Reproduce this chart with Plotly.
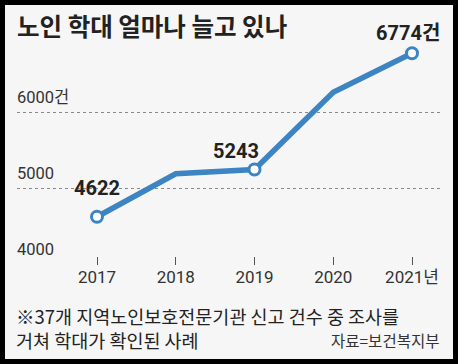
import plotly.graph_objects as go

years = [2017, 2018, 2019, 2020, 2021]
cases = [4622, 5188, 5243, 6259, 6774]
x_tick_labels = ["2017", "2018", "2019", "2020", "2021년"]
y_ticks = [4000, 5000, 6000]
y_tick_labels = ["4000", "5000", "6000건"]
labeled_idx = [0, 2, 4]
point_labels = ["4622", "5243", "6774건"]

title = "노인 학대 얼마나 늘고 있나"
note_lines = ["※37개 지역노인보호전문기관 신고 건수 중 조사를", "거쳐 학대가 확인된 사례"]
source = "자료=보건복지부"

W, H = 458, 364
L, R, T, B = 17, 17, 40, 99
PW, PH = W - L - R, H - T - B

def px2x(px):
    return (px - L) / PW

def py2y(py):
    return (H - B - py) / PH

NUM = "Roboto, Noto Sans CJK KR, sans-serif"
KR = "Noto Sans CJK KR, sans-serif"
BLUE = "#3d84c3"
BG = "#f6f6f6"

fig = go.Figure()
fig.add_trace(go.Scatter(
    x=years, y=cases, mode="lines",
    line=dict(color=BLUE, width=5.5),
    hoverinfo="skip", showlegend=False,
))
fig.add_trace(go.Scatter(
    x=[years[i] for i in labeled_idx], y=[cases[i] for i in labeled_idx],
    mode="markers",
    marker=dict(size=11, color="white", line=dict(color=BLUE, width=3)),
    hoverinfo="skip", showlegend=False,
))

ann = []
shifts = [(0, 29), (-19, 19), (-4, 20)]
for k, i in enumerate(labeled_idx):
    ann.append(dict(
        x=years[i], y=cases[i], xref="x", yref="y", text=point_labels[k],
        showarrow=False, xanchor="center", yanchor="middle",
        xshift=shifts[k][0], yshift=shifts[k][1],
        font=dict(family=NUM, size=20, color="#222", weight="bold"),
    ))
for v, t in zip(y_ticks, y_tick_labels):
    ann.append(dict(
        x=0, y=v, xref="paper", yref="y", text=t, showarrow=False,
        xanchor="left", yanchor="middle", yshift=15, xshift=-2,
        font=dict(family=NUM, size=16.5, color="#333"),
    ))
ann.append(dict(
    x=px2x(15), y=py2y(25), xref="paper", yref="paper", text=title,
    showarrow=False, xanchor="left", yanchor="middle",
    font=dict(family=KR, size=24.5, color="#222", weight="bold"),
))
ann.append(dict(
    x=px2x(14), y=py2y(328), xref="paper", yref="paper",
    text="<br>".join(note_lines), align="left",
    showarrow=False, xanchor="left", yanchor="middle",
    font=dict(family=KR, size=18.5, color="#222"),
))
ann.append(dict(
    x=px2x(441), y=py2y(340), xref="paper", yref="paper", text=source,
    showarrow=False, xanchor="right", yanchor="middle",
    font=dict(family=KR, size=15.5, color="#333"),
))

fig.update_layout(
    width=W, height=H,
    margin=dict(l=L, r=R, t=T, b=B, pad=0),
    paper_bgcolor=BG, plot_bgcolor=BG,
    annotations=ann,
    shapes=[dict(
        type="rect", xref="paper", yref="paper",
        x0=px2x(0), x1=px2x(W), y0=py2y(H), y1=py2y(0),
        line=dict(color="black", width=10), fillcolor="rgba(0,0,0,0)",
        layer="above",
    )],
    xaxis=dict(
        range=[2017 - 80 / 78.75, 2021 + 29 / 78.75],
        tickvals=years, ticktext=x_tick_labels,
        ticks="inside", ticklen=8, tickcolor="#555", tickwidth=1,
        showgrid=False, zeroline=False, showline=False,
        tickfont=dict(family=NUM, size=17, color="#333"),
    ),
    yaxis=dict(
        range=[3987, 3987 + PH / 76 * 1000],
        tickvals=y_ticks, showticklabels=False,
        showgrid=True, gridcolor="#8a8a8a", gridwidth=1, griddash="dot",
        zeroline=False, showline=False,
    ),
)

fig.write_html("out.html", config={"displayModeBar": False},
               post_script="document.body.style.margin='0';")
